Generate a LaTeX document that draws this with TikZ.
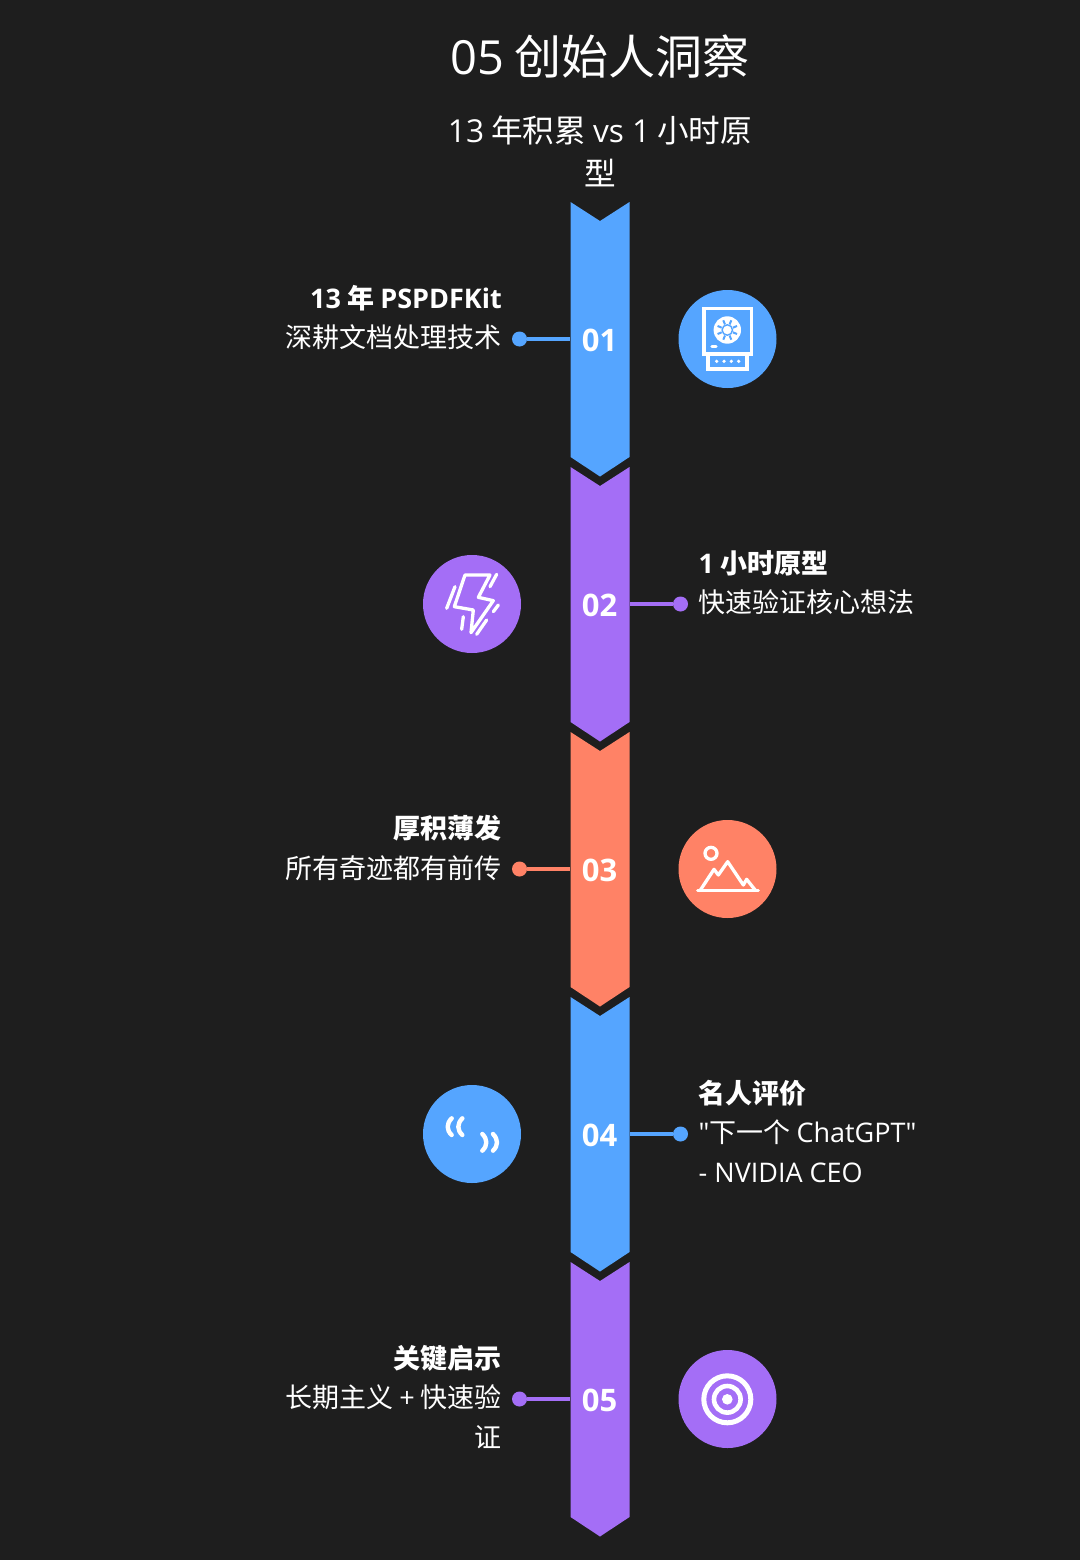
\documentclass[tikz,border=0pt]{standalone}
\usepackage{fontspec}
\setmainfont{Noto Sans CJK SC}
\newfontfamily\latfont{Open Sans}
\newcommand{\la}[1]{{\latfont #1}}
\definecolor{TimeInk}{HTML}{1E1E1E}
\definecolor{TimeBlue}{HTML}{55A5FF}
\definecolor{TimePurple}{HTML}{A46EF6}
\definecolor{TimeCoral}{HTML}{FF8266}
\tikzset{
  iconline/.style={white,line width=3.3pt,line cap=round,line join=round},
  badge/.style={circle,minimum size=98pt,inner sep=0pt},
  pin/.style={circle,minimum size=15pt,inner sep=0pt},
  numlab/.style={text=white,font=\fontsize{31}{36}\latfont\bfseries,inner sep=0pt},
  leftlab/.style={anchor=north east,align=right,text=white,inner sep=0pt,font=\fontsize{27}{39.5}\selectfont},
  rightlab/.style={anchor=north west,align=left,text=white,inner sep=0pt,font=\fontsize{27}{39.5}\selectfont}
}
\begin{document}
\begin{tikzpicture}[x=1pt,y=-1pt]
\fill[TimeInk] (0,0) rectangle (1080,1560);
\useasboundingbox (0,0) rectangle (1080,1560);
\node[text=white,font=\fontsize{47}{50}\selectfont,inner sep=0pt] (title) at (600,56.5) {\la{05} 创始人洞察};
\node[text=white,font=\fontsize{31.6}{43}\selectfont,align=center,inner sep=0pt] (subtitle) at (600,151.5) {\la{13} 年积累 \la{vs 1} 小时原\\型};
% connectors go first, the bands cover their ends
\foreach \i/\y/\px/\ex/\col in {1/339/519.5/570/TimeBlue,2/604/680.5/630/TimePurple,3/869/519.5/570/TimeCoral,4/1134/680.5/630/TimeBlue,5/1399/519.5/570/TimePurple}{
  \node[pin,fill=\col] (pin\i) at (\px,\y) {};
  \coordinate (edge\i) at (\ex,\y);
  \draw[\col,line width=3.5pt] (pin\i)--(edge\i);
  \fill[\col] (570.5,\y-137)--(600,\y-118)--(629.5,\y-137)--(629.5,\y+118)--(600,\y+137.5)--(570.5,\y+118)--cycle;
  \node[numlab] (num\i) at (599.5,\y+1) {0\i};
}
\node[badge,fill=TimeBlue] (badge1) at (727.5,339) {};
\node[badge,fill=TimePurple] (badge2) at (472,604) {};
\node[badge,fill=TimeCoral] (badge3) at (727.5,869) {};
\node[badge,fill=TimeBlue] (badge4) at (472,1134) {};
\node[badge,fill=TimePurple] (badge5) at (727.5,1399) {};
% labels
\node[leftlab] (lab1) at (502,285) {\textbf{\la{13} 年 \la{PSPDFKit}}\\深耕文档处理技术};
\node[rightlab] (lab2) at (698.5,550) {\textbf{\la{1} 小时原型}\\快速验证核心想法};
\node[leftlab] (lab3) at (502,815) {\textbf{厚积薄发}\\所有奇迹都有前传};
\node[rightlab] (lab4) at (698.5,1080) {\textbf{名人评价}\\\la{"}下一个 \la{ChatGPT"}\\\la{- NVIDIA CEO}};
\node[leftlab] (lab5) at (502,1345) {\textbf{关键启示}\\长期主义 \la{+} 快速验\\证};
% disk drive
\draw[iconline,line cap=butt,line join=miter] (704,308.5) rectangle (751.5,354);
\draw[iconline,line cap=butt,line join=miter] (708,354) rectangle (747,369);
\fill[white] (727.3,330) circle (13.7);
\draw[TimeBlue,line width=1.4pt] (727.3,330) circle (5.2);
\fill[white] (727.3,330) circle (3);
\foreach \a in {0,45,...,315}{\draw[TimeBlue,line width=2pt] (727.3,330)++(\a+22.5:6)--++(\a+22.5:4.5);}
\draw[white,line width=3.4pt,line cap=round] (712,346.7)--(716,346.7);
\foreach \x in {716.7,724,731.3,738.7}{\fill[white] (\x,361.3) circle (1.8);}
% bolt
\begin{scope}[shift={(410,540)},x=.3333pt,y=-.3333pt]
\draw[iconline] (165,105)--(240,105)--(205,172)--(250,182)--(183,278)--(190,210)--(133,200)--cycle;
\draw[iconline] (135,140)--(110,205);
\draw[iconline] (260,103)--(240,140);
\draw[iconline] (265,195)--(250,215);
\draw[iconline] (160,230)--(155,268);
\draw[iconline] (230,240)--(200,283);
\end{scope}
% mountains
\begin{scope}[shift={(665,810)},x=.3333pt,y=-.3333pt]
\draw[iconline] (138,130) circle (6pt);
\draw[iconline] (98,242)--(280,242);
\draw[iconline] (105,242)--(147,178)--(160,195)--(188,155)--(235,225)--(245,208)--(272,242);
\end{scope}
% quotes
\begin{scope}[shift={(410,1075)},x=.3333pt,y=-.3333pt]
\draw[iconline,line width=4.4pt] (125,130) .. controls (109,146) and (109,165) .. (125,180);
\draw[iconline,line width=4.4pt] (157,130) .. controls (141,146) and (141,165) .. (157,180);
\draw[iconline,line width=4.4pt] (217,177) .. controls (233,193) and (233,212) .. (217,227);
\draw[iconline,line width=4.4pt] (249,177) .. controls (265,193) and (265,212) .. (249,227);
\end{scope}
% target
\draw[white,line width=5pt] (727.3,1399.3) circle (23.5);
\draw[white,line width=4.6pt] (727.3,1399.3) circle (13.3);
\fill[white] (727.3,1399.3) circle (5.3);
\end{tikzpicture}
\end{document}
